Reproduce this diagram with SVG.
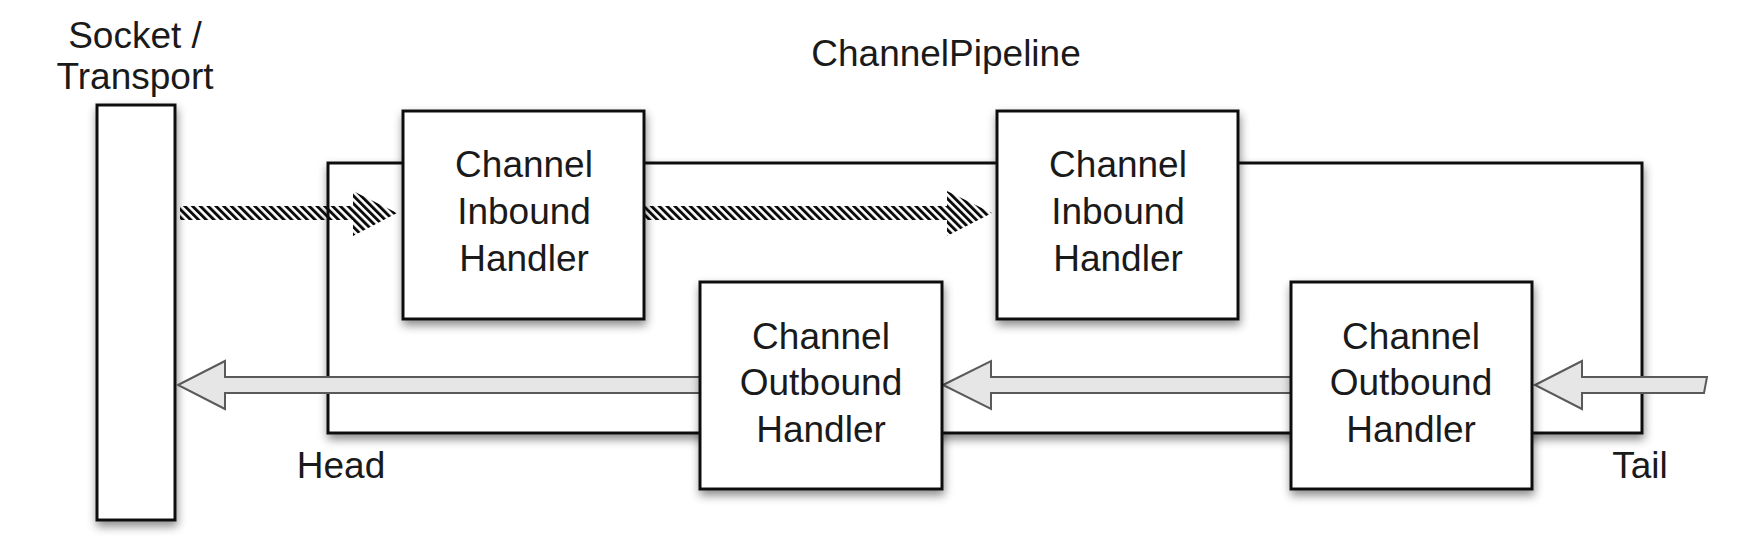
<svg xmlns="http://www.w3.org/2000/svg" width="1738" height="558" viewBox="0 0 1738 558">
  <style>
    .box { fill: #ffffff; stroke: #111111; stroke-width: 3; filter: url(#shadow); }
    .lbl { font-family: "Liberation Sans", Arial, sans-serif; font-size: 37px; fill: #1a1a1a; text-anchor: middle; }
    .hatch { fill: url(#stripes); stroke: none; }
    .out { fill: #e6e6e6; stroke: #5a5a5a; stroke-width: 2; stroke-linejoin: miter; }
  </style>
  <defs>
    <filter id="shadow" x="-20%" y="-20%" width="140%" height="150%">
      <feDropShadow dx="1" dy="5" stdDeviation="5" flood-color="#000000" flood-opacity="0.45"/>
    </filter>
    <pattern id="stripes" width="5.5" height="5.5" patternUnits="userSpaceOnUse" patternTransform="rotate(-45)">
      <rect x="0" y="0" width="2.9" height="5.5" fill="#0a0a0a"/>
    </pattern>
  </defs>
  <rect width="1738" height="558" fill="#ffffff"/>

  <g id="socket">
    <rect class="box" x="97" y="105" width="78" height="415"/>
    <text class="lbl" x="135" y="48">Socket /</text>
    <text class="lbl" x="135" y="89">Transport</text>
  </g>

  <g id="pipeline">
    <rect class="box" x="328" y="163" width="1314" height="270"/>
    <text class="lbl" x="946" y="66">ChannelPipeline</text>
    <text class="lbl" x="341" y="478">Head</text>
    <text class="lbl" x="1640" y="478">Tail</text>
  </g>

  <g id="connectors">
    <path class="hatch" d="M180,206 L353,206 L353,191 L397,213 L353,236 L353,220 L180,220 Z"/>
    <path class="hatch" d="M645,206 L947,206 L947,191 L992,213 L947,236 L947,220 L645,220 Z"/>
    <path class="out" d="M1535,385 L1582,361 L1582,377 L1707,377 L1704,393 L1582,393 L1582,409 Z"/>
    <path class="out" d="M943,385 L991,361 L991,377 L1291,377 L1291,393 L991,393 L991,409 Z"/>
    <path class="out" d="M178,385 L225,361 L225,377 L700,377 L700,393 L225,393 L225,409 Z"/>
  </g>

  <g id="inbound1">
    <rect class="box" x="403" y="111" width="241" height="208"/>
    <text class="lbl" x="524" y="177">Channel</text>
    <text class="lbl" x="524" y="224">Inbound</text>
    <text class="lbl" x="524" y="271">Handler</text>
  </g>

  <g id="inbound2">
    <rect class="box" x="997" y="111" width="241" height="208"/>
    <text class="lbl" x="1118" y="177">Channel</text>
    <text class="lbl" x="1118" y="224">Inbound</text>
    <text class="lbl" x="1118" y="271">Handler</text>
  </g>

  <g id="outbound1">
    <rect class="box" x="700" y="282" width="242" height="207"/>
    <text class="lbl" x="821" y="349">Channel</text>
    <text class="lbl" x="821" y="395">Outbound</text>
    <text class="lbl" x="821" y="442">Handler</text>
  </g>

  <g id="outbound2">
    <rect class="box" x="1291" y="282" width="241" height="207"/>
    <text class="lbl" x="1411" y="349">Channel</text>
    <text class="lbl" x="1411" y="395">Outbound</text>
    <text class="lbl" x="1411" y="442">Handler</text>
  </g>
</svg>
